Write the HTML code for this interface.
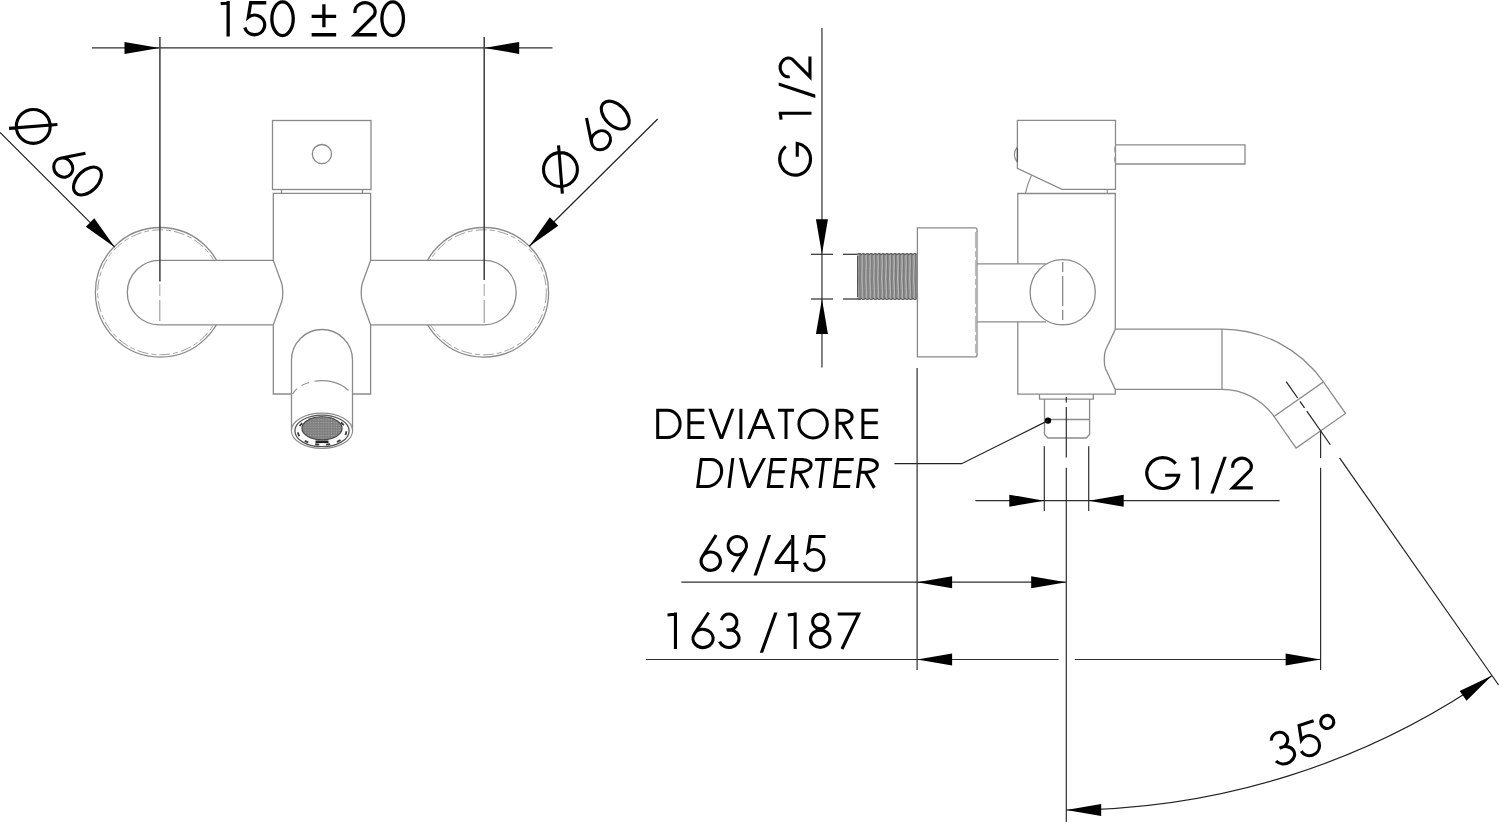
<!DOCTYPE html>
<html><head><meta charset="utf-8"><style>
html,body{margin:0;padding:0;background:#fff;width:1500px;height:822px;overflow:hidden}
svg{display:block}
text{font-family:"Liberation Sans",sans-serif;fill:#000}
</style></head><body>
<svg width="1500" height="822" viewBox="0 0 1500 822">
<rect width="1500" height="822" fill="#fff"/>
<line x1="92.00" y1="47.90" x2="552.50" y2="47.90" stroke="#2e2e2e" stroke-width="1.2" />
<polygon points="159.50,47.90 124.50,53.90 124.50,41.90" fill="#000"/>
<polygon points="484.20,47.90 519.20,41.90 519.20,53.90" fill="#000"/>
<circle cx="160.2" cy="292.3" r="64.8" fill="none" stroke="#8a8a8a" stroke-width="1.3"/>
<circle cx="160.2" cy="292.3" r="62.5" fill="none" stroke="#a0a0a0" stroke-width="1" stroke-dasharray="11 3 5 3"/>
<circle cx="483.8" cy="292.3" r="64.8" fill="none" stroke="#8a8a8a" stroke-width="1.3"/>
<circle cx="483.8" cy="292.3" r="62.5" fill="none" stroke="#a0a0a0" stroke-width="1" stroke-dasharray="11 3 5 3"/>
<path d="M273.4,260.4 H159.5 A32.2,32.2 0 0 0 159.5,324.8 H273.4" fill="#fff" stroke="#8a8a8a" stroke-width="1.3"/>
<path d="M370.6,260.4 H484 A32.2,32.2 0 0 1 484,324.8 H370.6" fill="#fff" stroke="#8a8a8a" stroke-width="1.3"/>
<line x1="159.90" y1="37.00" x2="159.90" y2="281.50" stroke="#3c3c3c" stroke-width="1.5" />
<line x1="159.80" y1="284.00" x2="159.80" y2="296.00" stroke="#aaa" stroke-width="1.1" />
<line x1="159.80" y1="300.00" x2="159.80" y2="321.00" stroke="#999" stroke-width="1.1" />
<line x1="484.20" y1="37.00" x2="484.20" y2="280.00" stroke="#3c3c3c" stroke-width="1.5" />
<line x1="484.20" y1="284.00" x2="484.20" y2="296.00" stroke="#aaa" stroke-width="1.1" />
<line x1="484.20" y1="300.00" x2="484.20" y2="323.00" stroke="#999" stroke-width="1.1" />
<rect x="272.5" y="120.5" width="98.5" height="69" fill="none" stroke="#8a8a8a" stroke-width="1.3"/>
<circle cx="321.9" cy="154.1" r="9.6" fill="none" stroke="#8a8a8a" stroke-width="1.3"/>
<path d="M281.5,189.5 V193.4 M362.5,189.5 V193.4" stroke="#8a8a8a" stroke-width="1.3" fill="none"/>
<path d="M273.3,260.4 V193.4 H370.6 V260.4 L362.4,283 C360.8,288 360.8,297 362.4,302 L370.6,324.8 V394 H352.5 M291.5,394 H273.3 V324.8 L281.6,302 C283.2,297 283.2,288 281.6,283 L273.3,260.4" fill="none" stroke="#8a8a8a" stroke-width="1.3"/>
<path d="M291.5,431 V360 A30.5,30.5 0 0 1 352.5,360 V431" fill="none" stroke="#8a8a8a" stroke-width="1.3"/>
<path d="M292.6,394 C301,379 333,375 348.5,390.5" fill="none" stroke="#8f8f8f" stroke-width="1.2" stroke-dasharray="7 5.5 8 5.5 200"/>
<defs><pattern id="mesh" x="0" y="0" width="2.6" height="2.6" patternUnits="userSpaceOnUse"><rect width="2.6" height="2.6" fill="#7c7c7c"/><circle cx="1.3" cy="1.3" r="0.75" fill="#a8a8a8"/></pattern></defs>
<ellipse cx="322" cy="430.8" rx="30.6" ry="17.7" fill="#fff" stroke="#8a8a8a" stroke-width="1.1"/>
<ellipse cx="322" cy="430.9" rx="27.1" ry="15.8" fill="none" stroke="#555" stroke-width="1.3"/>
<ellipse cx="322" cy="431.2" rx="24.3" ry="13.6" fill="none" stroke="#3a3a3a" stroke-width="1.8" stroke-dasharray="4 7"/>
<ellipse cx="322" cy="428.3" rx="20.1" ry="11.5" fill="url(#mesh)" stroke="#444" stroke-width="1.1"/>
<rect x="315.5" y="440.5" width="13" height="2.6" fill="#222"/>
<line x1="821.95" y1="28.00" x2="821.95" y2="367.50" stroke="#2e2e2e" stroke-width="1.2" />
<polygon points="821.95,254.30 815.95,219.30 827.95,219.30" fill="#000"/>
<polygon points="821.95,299.00 827.95,334.00 815.95,334.00" fill="#000"/>
<line x1="811.00" y1="254.30" x2="833.00" y2="254.30" stroke="#2e2e2e" stroke-width="1.2" />
<line x1="843.00" y1="254.30" x2="861.00" y2="254.30" stroke="#2e2e2e" stroke-width="1.2" />
<line x1="811.00" y1="299.00" x2="833.00" y2="299.00" stroke="#2e2e2e" stroke-width="1.2" />
<line x1="843.00" y1="299.00" x2="861.00" y2="299.00" stroke="#2e2e2e" stroke-width="1.2" />
<defs><pattern id="thr" x="857.3" y="254" width="3.97" height="44.8" patternUnits="userSpaceOnUse"><rect width="3.97" height="44.8" fill="#8c8c8c"/><path d="M0.8,0 C2.2,11 -0.4,22 1.2,33 C1.8,38 1.0,42 0.9,44.8" stroke="#cfcfcf" stroke-width="0.8" fill="none"/><path d="M2.8,0 C1.6,9 3.8,20 2.6,30 C2.2,36 3.2,41 3.0,44.8" stroke="#666" stroke-width="0.7" fill="none"/></pattern></defs>
<rect x="857.3" y="254" width="60" height="44.8" fill="url(#thr)"/>
<path d="M857.3,254.6 Q859.28,252.4 861.27,254.6 Q863.25,252.4 865.24,254.6 Q867.22,252.4 869.21,254.6 Q871.19,252.4 873.18,254.6 Q875.16,252.4 877.15,254.6 Q879.13,252.4 881.12,254.6 Q883.10,252.4 885.09,254.6 Q887.07,252.4 889.06,254.6 Q891.04,252.4 893.03,254.6 Q895.01,252.4 897.00,254.6 Q898.98,252.4 900.97,254.6 Q902.95,252.4 904.94,254.6 Q906.92,252.4 908.91,254.6 Q910.89,252.4 912.88,254.6 Q914.86,252.4 916.85,254.6" fill="none" stroke="#555" stroke-width="1.1"/>
<path d="M857.3,298.4 Q859.28,300.6 861.27,298.4 Q863.25,300.6 865.24,298.4 Q867.22,300.6 869.21,298.4 Q871.19,300.6 873.18,298.4 Q875.16,300.6 877.15,298.4 Q879.13,300.6 881.12,298.4 Q883.10,300.6 885.09,298.4 Q887.07,300.6 889.06,298.4 Q891.04,300.6 893.03,298.4 Q895.01,300.6 897.00,298.4 Q898.98,300.6 900.97,298.4 Q902.95,300.6 904.94,298.4 Q906.92,300.6 908.91,298.4 Q910.89,300.6 912.88,298.4 Q914.86,300.6 916.85,298.4" fill="none" stroke="#555" stroke-width="1.1"/>
<path d="M857.6,256 V297" stroke="#555" stroke-width="1.2"/>
<path d="M917.4,227.8 H975 Q977,227.8 977,229.8 V354.9 Q977,356.9 975,356.9 H917.4 Z" fill="#fff" stroke="#8a8a8a" stroke-width="1.3"/>
<line x1="975.4" y1="232" x2="975.4" y2="353" stroke="#b4b4b4" stroke-width="1" stroke-dasharray="16 3 6 3"/>
<path d="M977,263.9 H1046 M977,321.8 H1046" stroke="#8a8a8a" stroke-width="1.3" fill="none"/>
<path d="M1017.8,263.9 V193.5 H1115.3 V329.3 L1105.6,350 C1103.8,355 1103.8,364 1105.6,369 L1115.3,389.4 V394.1 H1017.8 V321.8" fill="none" stroke="#8a8a8a" stroke-width="1.3"/>
<circle cx="1062.7" cy="292.3" r="32.6" fill="#fff" stroke="#8a8a8a" stroke-width="1.3"/>
<line x1="1062.7" y1="262" x2="1062.7" y2="325" stroke="#8a8a8a" stroke-width="1.3" stroke-dasharray="10 4 30 4"/>
<path d="M1115.3,329.2 H1222 M1115.3,389.4 H1222 M1222,329.2 V389.4" fill="none" stroke="#8a8a8a" stroke-width="1.3"/>
<path d="M1222,329.10 A123.8,123.8 0 0 1 1323.41,381.89 M1222,389.40 A63.5,63.5 0 0 1 1274.02,416.48" fill="none" stroke="#8a8a8a" stroke-width="1.3"/>
<path d="M1274.02,416.48 L1323.41,381.89 L1345.49,413.43 L1296.10,448.02 Z" fill="none" stroke="#8a8a8a" stroke-width="1.3"/>
<path d="M1017.4,168.3 V120.4 H1115.5 V189.3 H1062 Z" fill="none" stroke="#8a8a8a" stroke-width="1.3"/>
<path d="M1017.3,146.9 Q1011.6,154.6 1017.3,162.3" fill="none" stroke="#8a8a8a" stroke-width="1.1"/>
<path d="M1017.4,148 V161.5" stroke="#555" stroke-width="1.3"/>
<path d="M1115.5,144.9 H1245 V164 H1115.5" fill="none" stroke="#8a8a8a" stroke-width="1.3"/>
<path d="M1115.5,145.5 Q1113.2,149.5 1115.5,153.5 M1115.5,155.5 Q1113.2,159.5 1115.5,163.5" fill="none" stroke="#999" stroke-width="1"/>
<path d="M1025.4,193.4 Q1027.6,183.5 1031.5,175.3 M1107.2,189.3 V193.4" fill="none" stroke="#8a8a8a" stroke-width="1.1"/>
<path d="M1039.5,394.1 V399.2 H1093.3 V394.1 M1044.5,399.2 V434.5 L1047.9,438 H1086.2 L1089.6,434.5 V399.2 M1044.5,419.5 H1089.6" fill="none" stroke="#8a8a8a" stroke-width="1.3"/>
<line x1="1066.30" y1="397.00" x2="1066.30" y2="402.50" stroke="#2e2e2e" stroke-width="1.2" />
<line x1="1066.30" y1="407.00" x2="1066.30" y2="457.40" stroke="#2e2e2e" stroke-width="1.2" />
<line x1="1066.30" y1="467.70" x2="1066.30" y2="822.00" stroke="#2e2e2e" stroke-width="1.2" />
<circle cx="1048" cy="420.6" r="3.2" fill="#000"/>
<path d="M1048,420.6 L961.6,463.7 H894.4" fill="none" stroke="#222" stroke-width="1.2"/>
<line x1="1286.19" y1="381.65" x2="1297.66" y2="398.03" stroke="#222" stroke-width="1.2" />
<line x1="1299.95" y1="401.31" x2="1304.54" y2="407.86" stroke="#222" stroke-width="1.2" />
<line x1="1306.83" y1="411.14" x2="1330.35" y2="444.73" stroke="#222" stroke-width="1.2" />
<line x1="1339.53" y1="457.83" x2="1498.59" y2="685.00" stroke="#222" stroke-width="1.2" />
<line x1="1320.60" y1="430.80" x2="1320.60" y2="458.00" stroke="#2e2e2e" stroke-width="1.2" />
<line x1="1320.60" y1="467.70" x2="1320.60" y2="670.00" stroke="#2e2e2e" stroke-width="1.2" />
<line x1="975.40" y1="500.70" x2="1279.60" y2="500.70" stroke="#2e2e2e" stroke-width="1.2" />
<line x1="1044.30" y1="446.30" x2="1044.30" y2="511.10" stroke="#2e2e2e" stroke-width="1.2" />
<line x1="1088.70" y1="446.30" x2="1088.70" y2="511.10" stroke="#2e2e2e" stroke-width="1.2" />
<polygon points="1044.30,500.70 1009.30,506.70 1009.30,494.70" fill="#000"/>
<polygon points="1088.70,500.70 1123.70,494.70 1123.70,506.70" fill="#000"/>
<line x1="681.40" y1="582.20" x2="1066.20" y2="582.20" stroke="#2e2e2e" stroke-width="1.2" />
<polygon points="917.10,582.20 952.10,576.20 952.10,588.20" fill="#000"/>
<polygon points="1066.20,582.20 1031.20,588.20 1031.20,576.20" fill="#000"/>
<line x1="646.00" y1="659.50" x2="1058.60" y2="659.50" stroke="#2e2e2e" stroke-width="1.2" />
<line x1="1074.80" y1="659.50" x2="1320.60" y2="659.50" stroke="#2e2e2e" stroke-width="1.2" />
<polygon points="917.10,659.50 952.10,653.50 952.10,665.50" fill="#000"/>
<polygon points="1320.60,659.50 1285.60,665.50 1285.60,653.50" fill="#000"/>
<line x1="917.10" y1="368.00" x2="917.10" y2="670.00" stroke="#2e2e2e" stroke-width="1.2" />
<path d="M1066.20,810.00 A742.0,742.0 0 0 0 1491.79,675.81" fill="none" stroke="#222" stroke-width="1.2"/>
<polygon points="1066.20,810.00 1101.20,804.00 1101.20,816.00" fill="#000"/>
<polygon points="1491.79,675.81 1466.56,700.80 1459.68,690.97" fill="#000"/>
<g transform="translate(0,36.4)" fill="none" stroke="#000" stroke-width="3.3" stroke-linejoin="miter" stroke-miterlimit="8"><path transform="translate(220.70,0)" d="M7.45,0 V-35.30 M0.00,-32.77 L8.27,-33.65"/><path transform="translate(242.80,0)" d="M23.50,-33.65 H7.87 L5.53,-19.21 L5.53,-19.21 A10.10,9.82 0 0 1 17.58,-19.49 A10.10,9.82 0 0 1 21.33,-8.36 A10.10,9.82 0 0 1 11.44,-1.65 A10.10,9.82 0 0 1 1.99,-8.93"/><path transform="translate(270.20,0)" d="M23.05,-17.65 A10.70,16.90 0 0 1 12.35,-0.75 A10.70,16.90 0 0 1 1.65,-17.65 A10.70,16.90 0 0 1 12.35,-34.55 A10.70,16.90 0 0 1 23.05,-17.65 Z"/><path transform="translate(311.65,0)" d="M12.25,-32.12 V-9.18 M0,-20.12 H24.50 M0,-1.65 H24.50"/><path transform="translate(353.30,0)" d="M1.75,-23.47 A10.07,8.94 0 0 1 7.15,-32.68 A10.07,8.94 0 0 1 18.72,-31.14 A10.07,8.94 0 0 1 20.86,-20.93 L1.48,-1.65 H23.45"/><path transform="translate(380.25,0)" d="M23.20,-17.65 A10.78,16.90 0 0 1 12.43,-0.75 A10.78,16.90 0 0 1 1.65,-17.65 A10.78,16.90 0 0 1 12.42,-34.55 A10.78,16.90 0 0 1 23.20,-17.65 Z"/></g>
<g transform="translate(0,439)" fill="none" stroke="#000" stroke-width="3.0" stroke-linejoin="miter" stroke-miterlimit="8"><path transform="translate(656.20,0)" d="M11.18,-1.50 H1.50 V-28.70 H11.18 L11.18,-28.70 A12.72,13.60 0 0 1 23.90,-15.10 A12.72,13.60 0 0 1 11.18,-1.50 Z"/><path transform="translate(687.40,0)" d="M17.00,-28.70 H1.50 V-1.50 H17.00 M1.50,-16.37 H16.49"/><path transform="translate(708.40,0)" d="M0,-30.20 L3.27,-30.20 L13.00,-4.34 L22.73,-30.20 L26.00,-30.20 L14.63,0 L11.37,0 Z" fill="#000" stroke="none"/><path transform="translate(739.40,0)" d="M1.50,0 V-30.20"/><path transform="translate(747.20,0)" d="M6.35,-11.48 H21.65"/><path transform="translate(747.20,0)" d="M0,0 L12.35,-30.20 L15.65,-30.20 L28.00,0 L24.69,0 L14.00,-26.16 L3.31,0 Z" fill="#000" stroke="none"/><path transform="translate(778.00,0)" d="M0,-28.70 H16.00 M8.00,-28.70 V0"/><path transform="translate(797.40,0)" d="M29.90,-15.10 A14.20,14.00 0 0 1 15.70,-1.10 A14.20,14.00 0 0 1 1.50,-15.10 A14.20,14.00 0 0 1 15.70,-29.10 A14.20,14.00 0 0 1 29.90,-15.10 Z"/><path transform="translate(835.60,0)" d="M1.50,0 V-28.70 H7.56 L7.56,-28.70 A8.94,6.42 0 0 1 16.50,-22.28 A8.94,6.42 0 0 1 7.56,-15.86 H1.50 M6.48,-15.86 L16.35,0"/><path transform="translate(861.40,0)" d="M16.80,-28.70 H1.50 V-1.50 H16.80 M1.50,-16.37 H16.30"/></g>
<g transform="translate(0,487.9) skewX(-7.3)" fill="none" stroke="#000" stroke-width="3.0" stroke-linejoin="miter" stroke-miterlimit="8"><path transform="translate(696.10,0)" d="M11.00,-1.50 H1.50 V-28.50 H11.00 L11.00,-28.50 A12.50,13.50 0 0 1 23.50,-15.00 A12.50,13.50 0 0 1 11.00,-1.50 Z"/><path transform="translate(727.50,0)" d="M1.50,0 V-30.00"/><path transform="translate(735.20,0)" d="M0,-30.00 L3.29,-30.00 L13.50,-4.16 L23.71,-30.00 L27.00,-30.00 L15.14,0 L11.86,0 Z" fill="#000" stroke="none"/><path transform="translate(766.70,0)" d="M16.50,-28.50 H1.50 V-1.50 H16.50 M1.50,-16.26 H16.00"/><path transform="translate(790.00,0)" d="M1.50,0 V-28.50 H8.27 L8.27,-28.50 A9.93,6.38 0 0 1 18.20,-22.12 A9.93,6.38 0 0 1 8.27,-15.75 H1.50 M7.09,-15.75 L18.05,0"/><path transform="translate(811.50,0)" d="M0,-28.50 H17.00 M8.50,-28.50 V0"/><path transform="translate(833.00,0)" d="M17.00,-28.50 H1.50 V-1.50 H17.00 M1.50,-16.26 H16.49"/><path transform="translate(856.00,0)" d="M1.50,0 V-28.50 H8.40 L8.40,-28.50 A10.10,6.38 0 0 1 18.50,-22.12 A10.10,6.38 0 0 1 8.40,-15.75 H1.50 M7.20,-15.75 L18.35,0"/></g>
<g transform="translate(0,489.4)" fill="none" stroke="#000" stroke-width="3.1" stroke-linejoin="miter" stroke-miterlimit="8"><path transform="translate(1145.20,0)" d="M20.01,-14.15 L33.49,-14.15 L33.49,-14.15 A16.05,15.45 0 0 1 18.51,-0.87 A16.05,15.45 0 0 1 2.06,-12.43 A16.05,15.45 0 0 1 10.63,-30.22 A16.05,15.45 0 0 1 30.42,-25.60"/><path transform="translate(1191.20,0)" d="M6.05,0 V-32.60 M0.00,-30.23 L6.83,-31.05"/><path transform="translate(1210.40,0)" d="M0,4.20 L3.30,4.20 L16.40,-32.60 L13.10,-32.60 Z" fill="#000" stroke="none"/><path transform="translate(1231.20,0)" d="M1.64,-21.67 A9.25,8.23 0 0 1 6.60,-30.15 A9.25,8.23 0 0 1 17.23,-28.74 A9.25,8.23 0 0 1 19.18,-19.34 L1.40,-1.55 H21.60"/></g>
<g transform="translate(0,571.9)" fill="none" stroke="#000" stroke-width="3.1" stroke-linejoin="miter" stroke-miterlimit="8"><path transform="translate(699.50,0)" d="M16.65,-36.90 L2.94,-15.42 L2.94,-15.42 A9.70,9.15 0 0 1 16.25,-18.54 A9.70,9.15 0 0 1 19.56,-5.98 A9.70,9.15 0 0 1 6.25,-2.86 A9.70,9.15 0 0 1 2.94,-15.42"/><path transform="translate(748.10,-36.90) rotate(180)" d="M15.98,-36.90 L2.88,-15.43 L2.88,-15.43 A9.25,9.15 0 0 1 15.58,-18.54 A9.25,9.15 0 0 1 18.72,-5.97 A9.25,9.15 0 0 1 6.02,-2.87 A9.25,9.15 0 0 1 2.88,-15.43"/><path transform="translate(753.50,0)" d="M0,3.60 L3.30,3.60 L17.50,-36.90 L14.20,-36.90 Z" fill="#000" stroke="none"/><path transform="translate(774.70,0)" d="M18.09,0 V-36.90 M0,-9.41 H23.80"/><path transform="translate(774.70,0)" d="M19.02,-36.90 L0.00,-10.96 L3.84,-10.96 L16.54,-28.27 L16.54,-36.90 Z" fill="#000" stroke="none"/><path transform="translate(802.60,0)" d="M22.90,-35.35 H7.67 L5.35,-20.22 L5.35,-20.22 A9.90,10.44 0 0 1 17.16,-20.52 A9.90,10.44 0 0 1 20.84,-8.68 A9.90,10.44 0 0 1 11.15,-1.55 A9.90,10.44 0 0 1 1.89,-9.29"/></g>
<g transform="translate(0,649)" fill="none" stroke="#000" stroke-width="3.1" stroke-linejoin="miter" stroke-miterlimit="8"><path transform="translate(667.50,0)" d="M7.95,0 V-36.50 M0.00,-34.04 L8.72,-34.95"/><path transform="translate(691.40,0)" d="M17.24,-36.50 L2.99,-15.23 L2.99,-15.23 A10.10,9.03 0 0 1 13.91,-19.39 A10.10,9.03 0 0 1 21.71,-11.38 A10.10,9.03 0 0 1 15.60,-2.27 A10.10,9.03 0 0 1 4.03,-4.65 A10.10,9.03 0 0 1 2.99,-15.23"/><path transform="translate(717.40,0)" d="M3.91,-28.93 A7.96,8.12 0 0 1 13.44,-34.73 A7.96,8.12 0 0 1 19.40,-25.18 A7.96,8.12 0 0 1 10.22,-18.83 M9.17,-18.99 A10.05,8.85 0 0 1 21.26,-12.84 A10.05,8.85 0 0 1 14.71,-1.98 A10.05,8.85 0 0 1 2.16,-7.37"/><path transform="translate(759.80,0)" d="M0,3.80 L3.30,3.80 L17.70,-36.50 L14.40,-36.50 Z" fill="#000" stroke="none"/><path transform="translate(787.80,0)" d="M7.35,0 V-36.50 M0.00,-34.04 L8.12,-34.95"/><path transform="translate(809.00,0)" d="M18.93,-27.56 A7.67,7.39 0 0 1 11.25,-20.17 A7.67,7.39 0 0 1 3.58,-27.56 A7.67,7.39 0 0 1 11.25,-34.95 A7.67,7.39 0 0 1 18.93,-27.56 Z M20.95,-10.22 A9.70,8.68 0 0 1 11.25,-1.54 A9.70,8.68 0 0 1 1.55,-10.22 A9.70,8.68 0 0 1 11.25,-18.90 A9.70,8.68 0 0 1 20.95,-10.22 Z"/><path transform="translate(837.70,0)" d="M0,-34.95 H20.95 L4.28,0"/></g>
<g transform="translate(811.5,176.6) rotate(-90)" fill="none" stroke="#000" stroke-width="3.1" stroke-linejoin="miter" stroke-miterlimit="8"><path transform="translate(-0.10,0)" d="M19.89,-14.25 L33.29,-14.25 L33.29,-14.25 A15.95,15.45 0 0 1 18.40,-0.97 A15.95,15.45 0 0 1 2.06,-12.53 A15.95,15.45 0 0 1 10.57,-30.32 A15.95,15.45 0 0 1 30.24,-25.70"/><path transform="translate(57.00,0)" d="M6.30,0 V-32.80 M0.00,-30.43 L7.08,-31.25"/><path transform="translate(78.70,0)" d="M0,3.80 L3.30,3.80 L15.50,-32.80 L12.20,-32.80 Z" fill="#000" stroke="none"/><path transform="translate(98.30,0)" d="M1.64,-21.81 A9.30,8.29 0 0 1 6.63,-30.35 A9.30,8.29 0 0 1 17.31,-28.92 A9.30,8.29 0 0 1 19.28,-19.46 L1.40,-1.55 H21.70"/></g>
<g transform="translate(1277,768.3) rotate(-18)" fill="none" stroke="#000" stroke-width="3.1" stroke-linejoin="miter" stroke-miterlimit="8"><path transform="translate(-0.80,0)" d="M3.97,-28.05 A8.21,7.83 0 0 1 13.79,-33.64 A8.21,7.83 0 0 1 19.94,-24.44 A8.21,7.83 0 0 1 10.47,-18.31 M9.40,-18.37 A10.35,8.54 0 0 1 21.85,-12.44 A10.35,8.54 0 0 1 15.10,-1.97 A10.35,8.54 0 0 1 2.17,-7.17"/><path transform="translate(26.50,0)" d="M23.00,-33.85 H7.71 L5.37,-19.35 L5.37,-19.35 A9.95,9.96 0 0 1 17.24,-19.63 A9.95,9.96 0 0 1 20.94,-8.35 A9.95,9.96 0 0 1 11.20,-1.55 A9.95,9.96 0 0 1 1.89,-8.93"/><path transform="translate(54.00,0)" d="M14.65,-28.60 A6.55,6.55 0 0 1 8.10,-22.05 A6.55,6.55 0 0 1 1.55,-28.60 A6.55,6.55 0 0 1 8.10,-35.15 A6.55,6.55 0 0 1 14.65,-28.60 Z"/></g>
<g transform="translate(7.1,126.45) rotate(45)" fill="none" stroke="#000" stroke-width="3.1" stroke-linejoin="miter" stroke-miterlimit="8"><path transform="translate(0.00,0)" d="M35.45,-18.50 A16.95,16.95 0 0 1 18.50,-1.55 A16.95,16.95 0 0 1 1.55,-18.50 A16.95,16.95 0 0 1 18.50,-35.45 A16.95,16.95 0 0 1 35.45,-18.50 Z M2.75,-0.06 L34.25,-36.94"/></g>
<g transform="translate(7.1,126.45) rotate(45)" fill="none" stroke="#000" stroke-width="3.1" stroke-linejoin="miter" stroke-miterlimit="8"><path transform="translate(57.30,0)" d="M17.02,-36.50 L2.97,-15.23 L2.97,-15.23 A9.95,9.03 0 0 1 13.73,-19.39 A9.95,9.03 0 0 1 21.41,-11.38 A9.95,9.03 0 0 1 15.40,-2.27 A9.95,9.03 0 0 1 4.00,-4.65 A9.95,9.03 0 0 1 2.97,-15.23"/><path transform="translate(83.40,0)" d="M22.45,-18.25 A10.45,16.70 0 0 1 12.00,-1.55 A10.45,16.70 0 0 1 1.55,-18.25 A10.45,16.70 0 0 1 12.00,-34.95 A10.45,16.70 0 0 1 22.45,-18.25 Z"/></g>
<g transform="translate(560.45,195.7) rotate(-45)" fill="none" stroke="#000" stroke-width="3.1" stroke-linejoin="miter" stroke-miterlimit="8"><path transform="translate(0.00,0)" d="M35.45,-18.50 A16.95,16.95 0 0 1 18.50,-1.55 A16.95,16.95 0 0 1 1.55,-18.50 A16.95,16.95 0 0 1 18.50,-35.45 A16.95,16.95 0 0 1 35.45,-18.50 Z M2.75,-0.06 L34.25,-36.94"/></g>
<g transform="translate(560.45,195.7) rotate(-45)" fill="none" stroke="#000" stroke-width="3.1" stroke-linejoin="miter" stroke-miterlimit="8"><path transform="translate(56.35,0)" d="M17.02,-36.50 L2.97,-15.23 L2.97,-15.23 A9.95,9.03 0 0 1 13.73,-19.39 A9.95,9.03 0 0 1 21.41,-11.38 A9.95,9.03 0 0 1 15.40,-2.27 A9.95,9.03 0 0 1 4.00,-4.65 A9.95,9.03 0 0 1 2.97,-15.23"/><path transform="translate(83.75,0)" d="M22.45,-18.25 A10.45,16.70 0 0 1 12.00,-1.55 A10.45,16.70 0 0 1 1.55,-18.25 A10.45,16.70 0 0 1 12.00,-34.95 A10.45,16.70 0 0 1 22.45,-18.25 Z"/></g>
<line x1="0.00" y1="132.40" x2="114.80" y2="247.20" stroke="#222" stroke-width="1.2" />
<polygon points="114.80,247.20 85.81,226.69 94.29,218.21" fill="#000"/>
<line x1="657.70" y1="119.00" x2="529.30" y2="246.30" stroke="#222" stroke-width="1.2" />
<polygon points="529.30,246.30 549.81,217.31 558.29,225.79" fill="#000"/>
</svg>
</body></html>
